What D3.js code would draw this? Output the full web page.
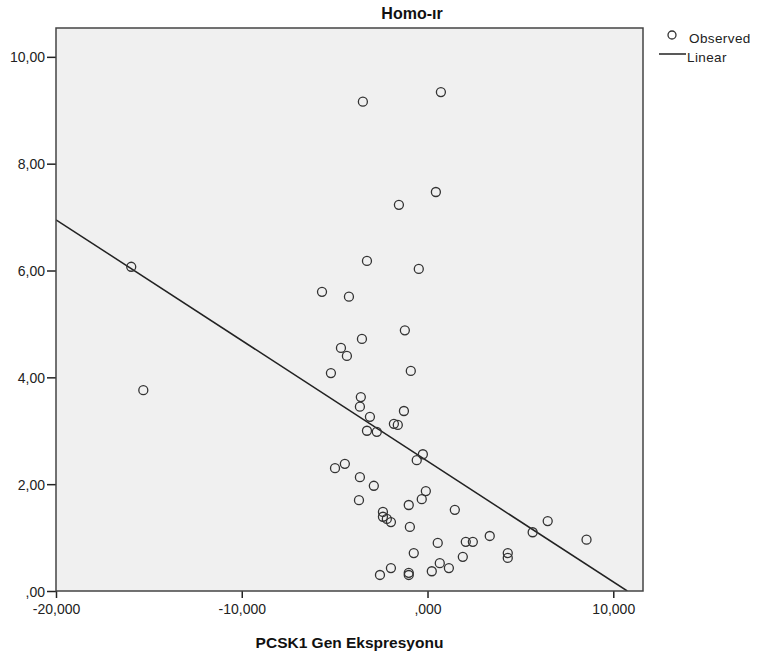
<html><head><meta http-equiv="Content-Type" content="text/html; charset=UTF-8"><title>Homo-ır</title>
<script src="https://cdn.jsdelivr.net/npm/d3@7/dist/d3.min.js"></script>
<style>
	body	{ margin:0; background:#fff; }
	svg	{ font-family:Arial, "Liberation Sans", sans-serif; }
</style>
</head><body>
<svg id="chart" width="757" height="661"></svg>
<script>
// PCSK1 gen ekspresyonu (x, thousands) vs Homo-ır (y)
var xVals=[-15.95,-15.30,-3.48,0.72,0.45,-1.54,-3.26,-0.47,-5.68,-4.23,
	-1.22,-3.53,-4.66,-4.34,-0.90,-5.20,-3.59,-3.64,-3.10,-1.27,
	-1.81,-1.60,-3.26,-2.73,-0.25,-0.58,-4.98,-4.45,-3.64,-2.89,
	-0.09,-0.31,-3.69,-1.01,1.47,-2.40,-2.40,-2.19,-1.97,-0.95,
	0.55,2.06,2.44,3.35,-0.74,1.90,0.66,1.15,0.23,-1.97,
	-2.56,-1.01,-1.01,4.32,4.32,5.66,6.47,8.56];
var yVals=[6.07,3.76,9.16,9.34,7.47,7.23,6.18,6.03,5.60,5.51,
	4.88,4.72,4.55,4.40,4.12,4.08,3.63,3.45,3.26,3.37,
	3.13,3.11,3.00,2.98,2.56,2.45,2.30,2.38,2.13,1.97,
	1.87,1.72,1.70,1.61,1.52,1.48,1.39,1.35,1.29,1.20,
	0.90,0.92,0.92,1.03,0.71,0.64,0.52,0.43,0.37,0.43,
	0.30,0.34,0.30,0.71,0.62,1.10,1.31,0.96];
var xTicks=[-20,-10,0,10];
var yTicks=[0,2,4,6,8,10];
var fitIntercept=2.43, fitSlope=-0.226;	// linear fit
var title='Homo-ır', xTitle='PCSK1 Gen Ekspresyonu';
var legendItems=['Observed','Linear'];

var svg=d3.select('#chart');
var L=56, T=28, R=643, B=591;
var x=d3.scaleLinear().domain([-20,11.6]).range([L,R]);
var y=d3.scaleLinear().domain([0,10.54]).range([B,T]);

function trNum(v,d){ // 2.5 -> 2,50 ; 0 -> ,00
	var s=Math.abs(v).toFixed(d).replace('.',',');
	if(s.charAt(0)==='0') s=s.substr(1);
	return (v<0?'-':'')+s;
}

svg.append('defs').append('clipPath').attr('id','plotClip')
	.append('rect').attr('x',L).attr('y',T).attr('width',R-L).attr('height',B-T);

svg.append('rect').attr('x',L).attr('y',T).attr('width',R-L).attr('height',B-T)
	.attr('fill','#f0f0f0');

// axes
var xAxis=svg.append('g').attr('transform','translate(0,'+B+')')
	.call(d3.axisBottom(x).tickValues(xTicks).tickSize(7).tickSizeOuter(0).tickFormat(function(d){return trNum(d,3);}));
var yAxis=svg.append('g').attr('transform','translate('+L+',0)')
	.call(d3.axisLeft(y).tickValues(yTicks).tickSize(9).tickSizeOuter(0).tickFormat(function(d){return trNum(d,2);}));
[xAxis,yAxis].forEach(function(a){
	a.select('.domain').remove();
	a.selectAll('line').attr('stroke','#222').attr('stroke-width',1.5);
	a.selectAll('text').attr('fill','#222').style('font-size','14px')
		.style('font-family','Arial, "Liberation Sans", sans-serif');
});
xAxis.selectAll('text').attr('dy','0.71em').attr('y',13);
yAxis.selectAll('text').attr('x',-11).attr('dy','0.36em');

// fit line
var x0=-20, x1=-fitIntercept/fitSlope;
svg.append('line').attr('clip-path','url(#plotClip)')
	.attr('x1',x(x0)).attr('y1',y(fitIntercept+fitSlope*x0))
	.attr('x2',x(x1)).attr('y2',y(fitIntercept+fitSlope*x1))
	.attr('stroke','#222').attr('stroke-width',1.5);

// points
svg.append('g').selectAll('circle').data(xVals).enter().append('circle')
	.attr('cx',function(d){return x(d);})
	.attr('cy',function(d,i){return y(yVals[i]);})
	.attr('r',4.5).attr('fill','none').attr('stroke','#333').attr('stroke-width',1.3);

// frame
svg.append('rect').attr('x',L).attr('y',T).attr('width',R-L).attr('height',B-T)
	.attr('fill','none').attr('stroke','#444').attr('stroke-width',1.5);

// titles
svg.append('text').attr('x',412).attr('y',19).attr('text-anchor','middle')
	.style('font-size','16px').style('font-weight','bold').attr('fill','#111').text(title);
svg.append('text').attr('x',(L+R)/2).attr('y',648).attr('text-anchor','middle')
	.style('font-size','15.5px').style('font-weight','bold').attr('fill','#111').text(xTitle);

// legend
var lg=svg.append('g').style('font-size','13.5px').style('letter-spacing','0.4px').attr('fill','#222');
lg.append('circle').attr('cx',672).attr('cy',35).attr('r',4)
	.attr('fill','none').attr('stroke','#333').attr('stroke-width',1.3);
lg.append('text').attr('x',689).attr('y',43).text(legendItems[0]);
lg.append('line').attr('x1',659).attr('x2',686).attr('y1',54).attr('y2',54)
	.attr('stroke','#222').attr('stroke-width',1.5);
lg.append('text').attr('x',687).attr('y',62).text(legendItems[1]);
</script>
</body></html>
